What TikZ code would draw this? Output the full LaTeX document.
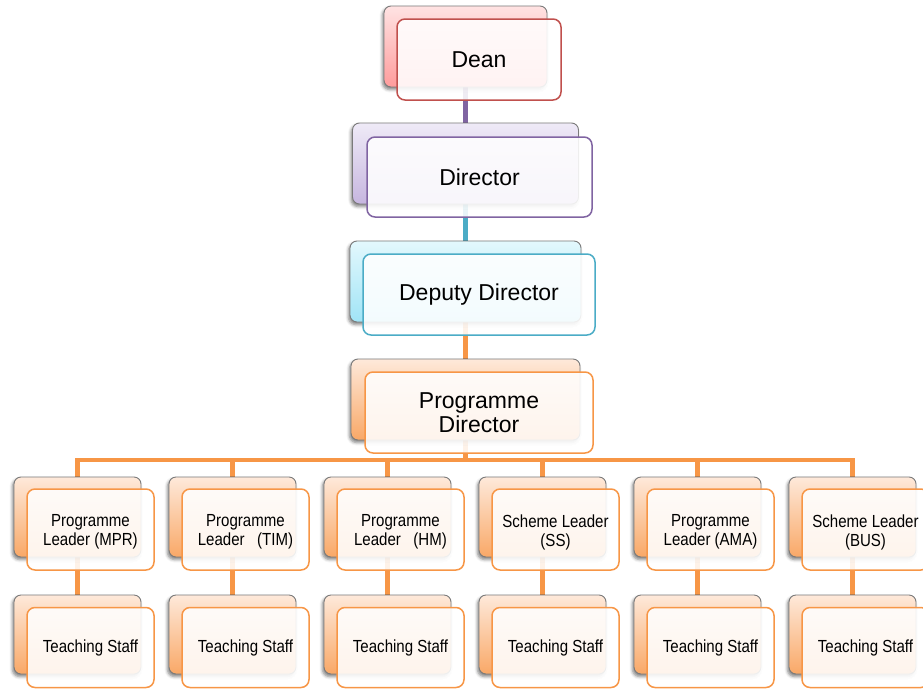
\documentclass[tikz,border=0pt]{standalone}
\usepackage{fontspec}
\setmainfont{Liberation Sans}
\usetikzlibrary{shadows.blur}

\definecolor{deanline}{HTML}{C0504D}
\definecolor{deantop}{HTML}{FFE3E3}
\definecolor{deanbot}{HTML}{FF9C9C}
\definecolor{dirline}{HTML}{8064A2}
\definecolor{dirtop}{HTML}{EFEAF7}
\definecolor{dirbot}{HTML}{C6B6DF}
\definecolor{depline}{HTML}{4BACC6}
\definecolor{deptop}{HTML}{E3F8FD}
\definecolor{depbot}{HTML}{A0E4F6}
\definecolor{pline}{HTML}{F79646}
\definecolor{ptop}{HTML}{FEE9DA}
\definecolor{pbot}{HTML}{F9A867}
\definecolor{backedge}{HTML}{7A7A7A}

% two-line condensed label for the leader boxes (extra space on top sets it a little lower)
\newcommand{\slab}[2]{\scalebox{0.86}[1]{\vbox{\vskip5pt\halign{\hfil##\hfil\cr #1\cr #2\cr}}}}

\pgfdeclarelayer{bg}
\pgfsetlayers{bg,main}

\begin{document}
\begin{tikzpicture}[x=1pt,y=-1pt,
  backbox/.style={draw=backedge, line width=0.9pt, rounded corners=7pt, inner sep=0pt,
    blur shadow={shadow xshift=-1.5pt, shadow yshift=-2.5pt, shadow blur radius=3pt, shadow opacity=50}},
  frontbox/.style={line width=1.5pt, rounded corners=8pt, fill=white, fill opacity=0.88,
    text opacity=1, inner sep=0pt, align=center, font=\fontsize{23}{24}\selectfont},
  smallbox/.style={font=\fontsize{17.5}{19}\selectfont},
  deanback/.style={backbox, top color=deantop, bottom color=deanbot},
  dirback/.style={backbox, top color=dirtop, bottom color=dirbot},
  depback/.style={backbox, top color=deptop, bottom color=depbot},
  pback/.style={backbox, top color=ptop, bottom color=pbot},
  conn/.style={line width=4.8pt}
]
\useasboundingbox (0,0) rectangle (923,688);

% top of the hierarchy
\node[deanback, minimum width=163pt, minimum height=81pt] (deanB) at (465.5,46.5) {};
\node[frontbox, draw=deanline, minimum width=164pt, minimum height=81pt] (deanF) at (479,59.5) {Dean};

\node[dirback, minimum width=226pt, minimum height=81pt] (dirB) at (465.5,163.5) {};
\node[frontbox, draw=dirline, minimum width=225pt, minimum height=80pt] (dirF) at (479.5,177) {Director};

\node[depback, minimum width=231pt, minimum height=81pt] (depB) at (465.5,281.5) {};
\node[frontbox, draw=depline, minimum width=232pt, minimum height=81pt] (depF) at (479,294.5) {Deputy Director};

\node[pback, minimum width=229pt, minimum height=81pt] (pdB) at (465.5,399.5) {};
\node[frontbox, draw=pline, minimum width=228pt, minimum height=81pt] (pdF) at (479,412.5) {Programme\\Director};

% leaders and their teaching staff
\foreach \i/\nm/\la/\lb in {0/mpr/{Programme}/{Leader (MPR)},
                            1/tim/{Programme}/{Leader\ \ \ (TIM)},
                            2/hm/{Programme}/{Leader\ \ \ (HM)},
                            3/ss/{Scheme Leader}/{(SS)},
                            4/ama/{Programme}/{Leader (AMA)},
                            5/bus/{Scheme Leader}/{(BUS)}} {
  \pgfmathsetmacro\cx{77.5+155*\i}
  \node[pback, minimum width=127pt, minimum height=80pt] (\nm B) at (\cx,517) {};
  \node[frontbox, smallbox, draw=pline, minimum width=127pt, minimum height=81pt] (\nm F) at (\cx+13,529.5) {\slab{\la}{\lb}};
  \node[pback, minimum width=127pt, minimum height=79pt] (\nm TB) at (\cx,634.5) {};
  \node[frontbox, smallbox, draw=pline, minimum width=127pt, minimum height=80pt] (\nm TF) at (\cx+13,647.5) {\scalebox{0.86}[1]{Teaching Staff}};
}

% connectors, kept behind the boxes
\begin{pgfonlayer}{bg}
  \draw[conn, dirline] (deanB.south) -- (dirB.north);
  \draw[conn, depline] (dirB.south) -- (depB.north);
  \draw[conn, pline] (depB.south) -- (pdB.north);
  \coordinate (bar) at (465.5,460);
  \foreach \nm in {mpr,tim,hm,ss,ama,bus} {
    \draw[conn, pline] (pdB.south) -- (bar) -| (\nm B.north);
    \draw[conn, pline] (\nm B.south) -- (\nm TB.north);
  }
\end{pgfonlayer}
\end{tikzpicture}
\end{document}
